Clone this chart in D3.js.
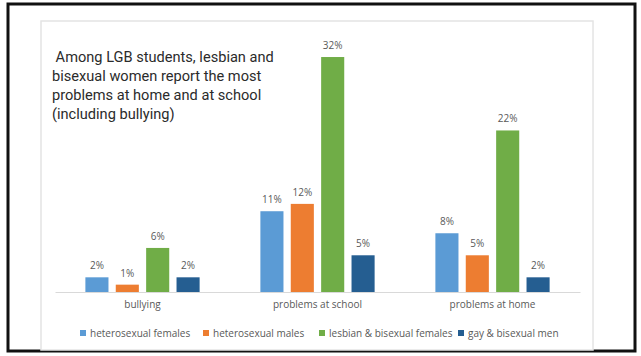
<!DOCTYPE html>
<html>
<head>
<meta charset="utf-8">
<script src="https://cdn.jsdelivr.net/npm/d3@7/dist/d3.min.js"></script>
<style>
  html, body { margin: 0; padding: 0; background: #fff; }
  svg { display: block; }
</style>
</head>
<body>
<svg id="chart" width="641" height="356"></svg>
<script>
// Survey categories and groups
const categories = ["bullying", "problems at school", "problems at home"];
const groups = ["heterosexual females", "heterosexual males", "lesbian & bisexual females", "gay & bisexual men"];
const colors = ["#5B9BD5", "#ED7D31", "#70AD47", "#255E91"];

// Percentages per group, one value per category
const heteroFemales = [2, 11, 8];
const heteroMales = [1, 12, 5];
const lgbFemales = [6, 32, 22];
const gayBiMen = [2, 5, 2];
const seriesValues = [heteroFemales, heteroMales, lgbFemales, gayBiMen];

const noteLines = [
  " Among LGB students, lesbian and",
  "bisexual women report the most",
  "problems at home and at school",
  "(including bullying)"
];

const svg = d3.select("#chart");

// outer frame
svg.append("rect")
  .attr("x", 8).attr("y", 4).attr("width", 627).attr("height", 347)
  .attr("fill", "#fff").attr("stroke", "#111").attr("stroke-width", 3);

// card panel
svg.append("rect")
  .attr("x", 41).attr("y", 21).attr("width", 552).attr("height", 329)
  .attr("fill", "#fff").attr("stroke", "#e4e4e4").attr("stroke-width", 1.5);

const plot = { left: 55, right: 580, top: 35, bottom: 292 };

const x0 = d3.scaleBand().domain(categories).range([plot.left, plot.right]).paddingInner(0).paddingOuter(0);
const x1 = d3.scaleBand().domain(groups).range([0, x0.bandwidth()]).paddingInner(0.24).paddingOuter(1.0);
const y = d3.scaleLinear().domain([0, 35]).range([plot.bottom, plot.top]);

const rows = [];
categories.forEach((c, ci) => {
  groups.forEach((g, gi) => rows.push({ c, g, gi, v: seriesValues[gi][ci] }));
});

// baseline axis
const xAxis = d3.axisBottom(x0).tickSize(0).tickPadding(9);
const ax = svg.append("g").attr("transform", `translate(0,${plot.bottom})`).call(xAxis);
ax.select(".domain").attr("stroke", "#d9d9d9").attr("stroke-width", 1);
ax.selectAll("text")
  .attr("font-family", "'Open Sans', sans-serif")
  .attr("font-size", 10)
  .attr("fill", "#595959");

// bars
svg.append("g").selectAll("rect").data(rows).join("rect")
  .attr("x", d => x0(d.c) + x1(d.g))
  .attr("y", d => y(d.v))
  .attr("width", x1.bandwidth())
  .attr("height", d => y(0) - y(d.v))
  .attr("fill", d => colors[d.gi]);

// value labels
svg.append("g").selectAll("text").data(rows).join("text")
  .attr("x", d => x0(d.c) + x1(d.g) + x1.bandwidth() / 2)
  .attr("y", d => y(d.v) - 8)
  .attr("text-anchor", "middle")
  .attr("font-family", "'Open Sans', sans-serif")
  .attr("font-size", 10)
  .attr("fill", "#595959")
  .text(d => d.v + "%");

// annotation
const note = svg.append("text")
  .attr("font-family", "Roboto, sans-serif")
  .attr("font-size", 14.6)
  .attr("fill", "#2b2b2b");
noteLines.forEach((t, i) => {
  note.append("tspan")
    .attr("x", 52)
    .attr("y", 62 + i * 19)
    .style("white-space", "pre")
    .text(t);
});

// legend
const legendX = [80, 203, 319, 458];
const lg = svg.append("g").selectAll("g").data(groups).join("g")
  .attr("transform", (d, i) => `translate(${legendX[i]},333)`);
lg.append("rect").attr("x", 0).attr("y", -3).attr("width", 6).attr("height", 6)
  .attr("fill", (d, i) => colors[i]);
lg.append("text").attr("x", 10).attr("y", 3.5)
  .attr("font-family", "'Open Sans', sans-serif")
  .attr("font-size", 10)
  .attr("fill", "#595959")
  .text(d => d);
</script>
</body>
</html>
